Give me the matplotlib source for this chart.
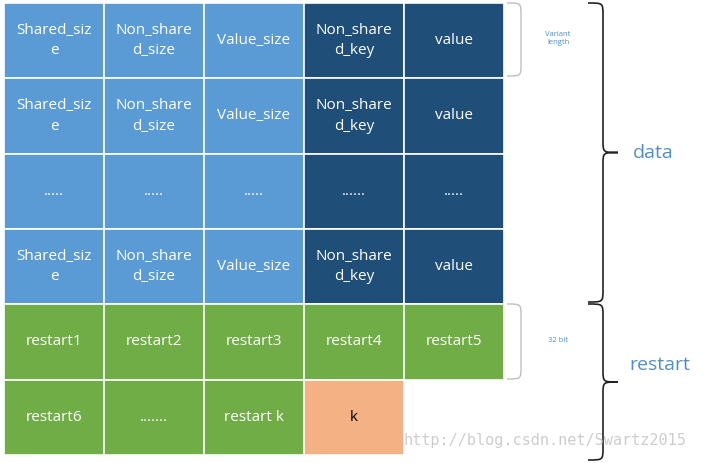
import matplotlib.pyplot as plt
from matplotlib.patches import Rectangle, PathPatch
from matplotlib.path import Path

plt.rcParams["font.family"] = ["Open Sans", "DejaVu Sans"]

# cell labels, one list per row
row1 = ["Shared_siz\ne", "Non_share\nd_size", "Value_size", "Non_share\nd_key", "value"]
row2 = ["Shared_siz\ne", "Non_share\nd_size", "Value_size", "Non_share\nd_key", "value"]
row3 = [".....", ".....", ".....", "......", "....."]
row4 = ["Shared_siz\ne", "Non_share\nd_size", "Value_size", "Non_share\nd_key", "value"]
row5 = ["restart1", "restart2", "restart3", "restart4", "restart5"]
row6 = ["restart6", ".......", "restart k", "k"]
rows = [row1, row2, row3, row4, row5, row6]

light_blue = "#5b9bd5"
dark_blue = "#1f4e79"
green = "#70ad47"
orange = "#f4b183"

fig = plt.figure(figsize=(7.06, 4.63), dpi=100)
ax = fig.add_axes([0, 0, 1, 1])
ax.set_xlim(0, 706)
ax.set_ylim(463, 0)
ax.axis("off")

x0, y0, cw, rh = 4, 3, 100, 75.3
for r, labels in enumerate(rows):
    for c, lab in enumerate(labels):
        if r < 4:
            col = light_blue if c < 3 else dark_blue
        elif lab == "k":
            col = orange
        else:
            col = green
        x, y = x0 + c * cw, y0 + r * rh
        ax.add_patch(Rectangle((x, y), cw, rh, facecolor=col, edgecolor="white", lw=1.2))
        ax.text(x + cw / 2, y + rh / 2, lab, ha="center", va="center",
                color="black" if lab == "k" else "white", fontsize=11, linespacing=1.5)


def brace(x, ya, yb, w, tip=True, color="#222222", lw=1.2):
    ym = (ya + yb) / 2
    h = x + w / 2
    r = min(12, (yb - ya) / 4)
    if tip:
        verts = [(x, ya), (h, ya), (h, ya), (h, ya + r), (h, ym - r),
                 (h, ym), (h, ym), (x + w, ym), (h, ym), (h, ym), (h, ym + r),
                 (h, yb - r), (h, yb), (h, yb), (x, yb)]
        codes = [Path.MOVETO] + [Path.CURVE4] * 3 + [Path.LINETO] + [Path.CURVE4] * 6 + \
                [Path.LINETO] + [Path.CURVE4] * 3
    else:
        verts = [(x, ya), (x + w, ya), (x + w, ya), (x + w, ya + r), (x + w, yb - r),
                 (x + w, yb), (x + w, yb), (x, yb)]
        codes = [Path.MOVETO] + [Path.CURVE4] * 3 + [Path.LINETO] + [Path.CURVE4] * 3
    ax.add_patch(PathPatch(Path(verts, codes), fill=False, edgecolor=color, lw=lw))


brace(507, 3, 76, 14, tip=False, color="#bfbfbf", lw=1.0)
brace(507, 304, 379, 14, tip=False, color="#bfbfbf", lw=1.0)
brace(588, 3, 302, 30)
brace(588, 304, 460, 30)

txt_blue = "#4f8fc8"
ax.text(558, 38, "Variant\nlength", ha="center", va="center", fontsize=5.5, color=txt_blue)
ax.text(558, 340, "32 bit", ha="center", va="center", fontsize=5.5, color=txt_blue)
ax.text(653, 153, "data", ha="center", va="center", fontsize=14, color=txt_blue)
ax.text(660, 365, "restart", ha="center", va="center", fontsize=14, color=txt_blue)
ax.text(545, 440, "http://blog.csdn.net/Swartz2015", ha="center", va="center",
        fontsize=11, color="#c8c8c8", family="DejaVu Sans Mono", alpha=0.9)

fig.savefig("out.png", dpi=100)
